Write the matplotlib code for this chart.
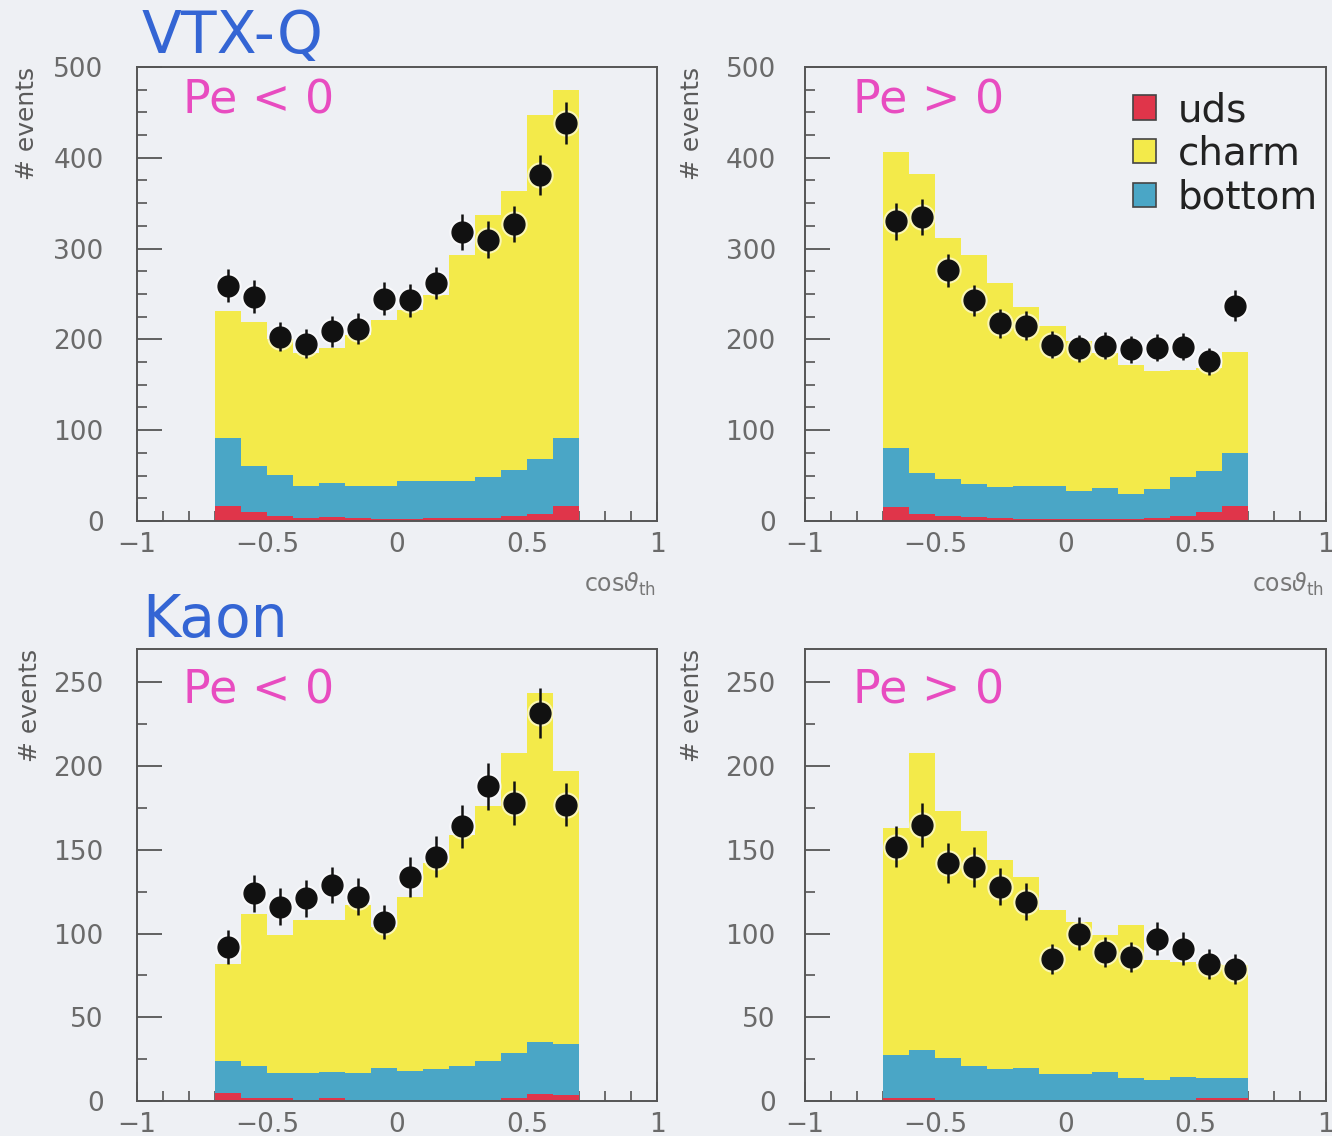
import numpy as np
import matplotlib
matplotlib.use("Agg")
import matplotlib.pyplot as plt
from matplotlib.patches import Patch
from matplotlib.ticker import MultipleLocator

# histogram binning in cos(theta_thrust)
bin_edges = [-0.7, -0.6, -0.5, -0.4, -0.3, -0.2, -0.1, 0.0, 0.1, 0.2, 0.3, 0.4, 0.5, 0.6, 0.7]
xtick_vals = [-1, -0.5, 0, 0.5, 1]
xtick_labels = ["\u22121", "\u22120.5", "0", "0.5", "1"]

# VTX-Q, Pe < 0
uds_vq_neg = [17, 10, 6, 3, 4, 3, 2, 2, 3, 3, 3, 5, 8, 16]
bot_vq_neg = [74, 51, 45, 35, 38, 36, 37, 42, 41, 41, 46, 51, 60, 75]
chm_vq_neg = [140, 158, 149, 147, 148, 166, 182, 188, 205, 249, 288, 307, 379, 384]
dat_vq_neg = [259, 247, 203, 195, 209, 212, 245, 243, 262, 318, 310, 327, 381, 438]
err_vq_neg = [18, 18, 16, 16, 17, 17, 18, 18, 18, 20, 20, 20, 22, 23]

# VTX-Q, Pe > 0
uds_vq_pos = [15, 8, 5, 4, 3, 2, 2, 2, 2, 2, 3, 5, 10, 16]
bot_vq_pos = [65, 45, 41, 37, 34, 37, 37, 31, 34, 28, 32, 44, 45, 59]
chm_vq_pos = [326, 329, 266, 252, 225, 197, 176, 165, 149, 142, 130, 117, 113, 111]
dat_vq_pos = [330, 335, 276, 243, 218, 215, 194, 190, 193, 189, 191, 192, 176, 237]
err_vq_pos = [20, 20, 18, 17, 16, 16, 15, 15, 15, 15, 15, 15, 15, 17]

# Kaon, Pe < 0
uds_k_neg = [5, 2, 1.5, 0.6, 1.7, 0.5, 0.5, 0.5, 0.5, 0.5, 0.5, 2, 4, 3.8]
bot_k_neg = [19, 19, 15, 16, 15.7, 16, 19, 17.5, 18.5, 20.5, 23.5, 26.6, 31, 30.2]
chm_k_neg = [58, 91, 82.5, 91.5, 90.6, 100.5, 84.5, 104, 123, 138, 152, 179.4, 209, 163]
dat_k_neg = [92, 124, 116, 121, 129, 122, 107, 134, 146, 164, 188, 178, 232, 177]
err_k_neg = [10, 11, 11, 11, 11, 11, 10, 12, 12, 13, 14, 13, 15, 13]

# Kaon, Pe > 0
uds_k_pos = [1.7, 1.7, 0.5, 0.5, 0.5, 0.5, 0.5, 0.5, 0.5, 0.5, 0.5, 0.5, 1.5, 2]
bot_k_pos = [25.8, 29, 24.9, 20.5, 18.5, 19.5, 15.5, 15.5, 16.8, 13.2, 11.8, 13.9, 12.2, 11.7]
chm_k_pos = [135.5, 177.3, 147.6, 140, 125, 114, 98, 91, 81.7, 91.3, 71.7, 68.6, 68.3, 67.3]
dat_k_pos = [152, 165, 142, 140, 128, 119, 85, 100, 89, 86, 97, 91, 82, 79]
err_k_pos = [12, 13, 12, 12, 11, 11, 9, 10, 9, 9, 10, 10, 9, 9]

BG = "#eef0f4"
C_UDS = "#e0354a"
C_CHARM = "#f3ea4a"
C_BOTTOM = "#4aa6c6"
C_TICK = "#6a6a6a"
C_FRAME = "#555555"

W, H = 1332, 1136
fig = plt.figure(figsize=(W / 100, H / 100), dpi=100, facecolor=BG)


def panel(rect, uds, bot, chm, dat, err, ymax, ymaj, ypad):
    ax = fig.add_axes(rect, facecolor=BG)
    edges = np.array(bin_edges)
    centers = (edges[:-1] + edges[1:]) / 2
    widths = np.diff(edges)
    uds = np.array(uds, float)
    bot = np.array(bot, float)
    chm = np.array(chm, float)
    # stacked MC: uds at the base, then bottom, then charm
    ax.bar(centers, uds, width=widths, color=C_UDS, linewidth=0, zorder=1)
    ax.bar(centers, bot, width=widths, bottom=uds, color=C_BOTTOM, linewidth=0, zorder=1)
    ax.bar(centers, chm, width=widths, bottom=uds + bot, color=C_CHARM, linewidth=0, zorder=1)
    # data points with a soft halo
    ax.plot(centers, dat, "o", ms=19, color="white", alpha=0.6, mec="none", zorder=3)
    ax.errorbar(centers, dat, yerr=err, fmt="o", ms=15, color="#111111",
                ecolor="#111111", elinewidth=1.8, capsize=0, zorder=4)
    ax.set_xlim(-1, 1)
    ax.set_ylim(0, ymax)
    ax.set_axisbelow(True)
    ax.set_xticks(xtick_vals)
    ax.set_xticklabels(xtick_labels)
    ax.xaxis.set_minor_locator(MultipleLocator(0.1))
    ax.yaxis.set_major_locator(MultipleLocator(ymaj))
    ax.yaxis.set_minor_locator(MultipleLocator(25))
    ax.tick_params(axis="both", which="both", direction="in", colors=C_FRAME,
                   labelcolor=C_TICK, labelsize=19, top=False, right=False)
    ax.tick_params(axis="y", which="major", length=18, width=1.3, pad=ypad)
    ax.tick_params(axis="y", which="minor", length=7.5, width=1.2)
    ax.tick_params(axis="x", which="major", length=14, width=1.3, pad=8)
    ax.tick_params(axis="x", which="minor", length=7, width=1.2)
    for s in ax.spines.values():
        s.set_color(C_FRAME)
        s.set_linewidth(1.4)
    return ax


ax_tl = panel([137 / W, 1 - 521 / H, 520 / W, 454 / H], uds_vq_neg, bot_vq_neg,
              chm_vq_neg, dat_vq_neg, err_vq_neg, 500, 100, 24)
ax_tr = panel([805 / W, 1 - 521 / H, 521 / W, 454 / H], uds_vq_pos, bot_vq_pos,
              chm_vq_pos, dat_vq_pos, err_vq_pos, 500, 100, 21)
ax_bl = panel([137 / W, 1 - 1101 / H, 520 / W, 452 / H], uds_k_neg, bot_k_neg,
              chm_k_neg, dat_k_neg, err_k_neg, 270, 50, 24)
ax_br = panel([805 / W, 1 - 1101 / H, 521 / W, 452 / H], uds_k_pos, bot_k_pos,
              chm_k_pos, dat_k_pos, err_k_pos, 270, 50, 21)

# tag names and electron polarisation labels
fig.text(142 / W, 1 - 53 / H, "VTX-Q", color="#3465d4", fontsize=42, va="baseline")
fig.text(142 / W, 1 - 637 / H, "Kaon", color="#3465d4", fontsize=42, va="baseline")
pe_col = "#e84cc0"
fig.text(183 / W, 1 - 113 / H, "Pe < 0", color=pe_col, fontsize=33, va="baseline")
fig.text(853 / W, 1 - 113 / H, "Pe > 0", color=pe_col, fontsize=33, va="baseline")
fig.text(183 / W, 1 - 703 / H, "Pe < 0", color=pe_col, fontsize=33, va="baseline")
fig.text(853 / W, 1 - 703 / H, "Pe > 0", color=pe_col, fontsize=33, va="baseline")

# axis titles
for xc, ytop in [(27, 67), (692, 67), (30, 649), (692, 649)]:
    fig.text(xc / W, 1 - ytop / H, "# events", rotation=90, ha="center", va="top",
             fontsize=18, color="#5a5a5a")
for xr in [656, 1324]:
    fig.text(xr / W, 1 - 584 / H, r"cos$\vartheta_{\mathrm{th}}$", ha="right",
             va="center", fontsize=17, color="#777777")

handles = [Patch(facecolor=C_UDS, edgecolor="#444444", linewidth=1.2),
           Patch(facecolor=C_CHARM, edgecolor="#444444", linewidth=1.2),
           Patch(facecolor=C_BOTTOM, edgecolor="#444444", linewidth=1.2)]
fig.legend(handles, ["uds", "charm", "bottom"], loc="upper left",
           bbox_to_anchor=(1133 / W, 1 - 91 / H), bbox_transform=fig.transFigure,
           frameon=False, fontsize=28, labelcolor="#222222",
           handlelength=0.6, handleheight=0.6,
           handletextpad=0.55, labelspacing=0.15, borderpad=0, borderaxespad=0)

fig.savefig("out.png", dpi=100, facecolor=BG)
